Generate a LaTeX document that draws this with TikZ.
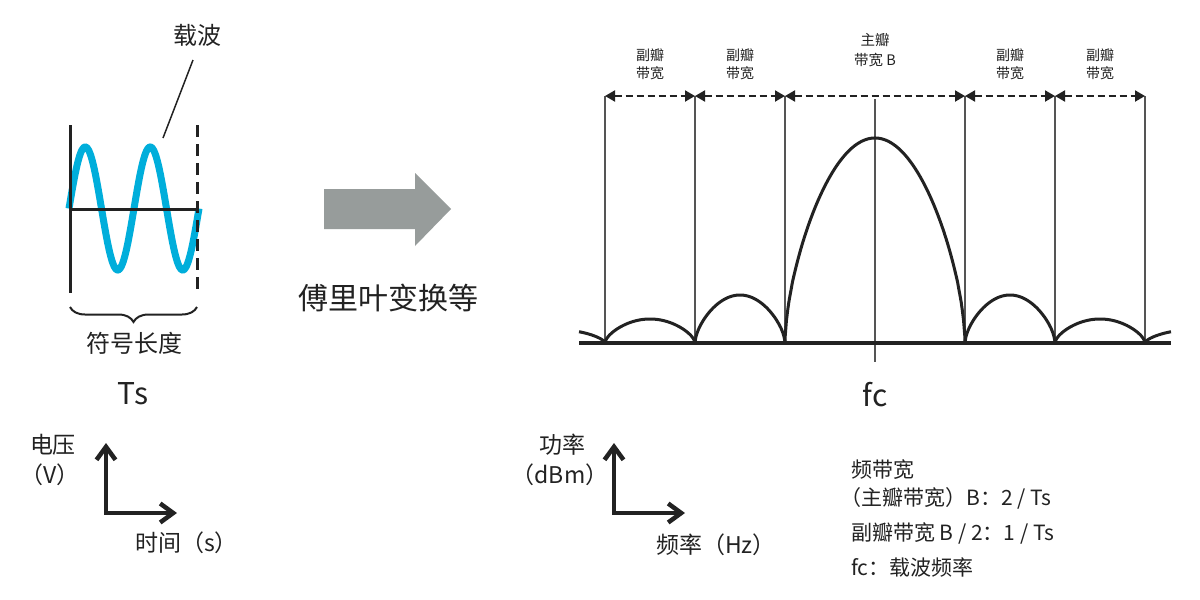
\documentclass[tikz,border=0pt]{standalone}
\usepackage{fontspec}
\setmainfont{Noto Sans CJK SC}
\usetikzlibrary{arrows.meta,decorations.pathreplacing}
\definecolor{ink}{HTML}{222222}
\definecolor{wavecol}{RGB}{0,174,219}
\definecolor{arrowgray}{RGB}{151,156,155}
\definecolor{vlinecol}{HTML}{555555}
\newcommand{\fsz}[2]{\fontsize{#1}{#2}\selectfont}
\begin{document}
\begin{tikzpicture}[x=1pt,y=-1pt,
  txt/.style={inner sep=0pt, text=ink},
  wavestyle/.style={line width=7pt, draw=wavecol},
  thinblack/.style={line width=3pt, draw=ink},
  axisarrow/.style={line width=4.5pt, draw=ink, line join=miter,
    {Straight Barb[length=13pt,width=19pt,line width=4.5pt]}-{Straight Barb[length=13pt,width=19pt,line width=4.5pt]}},
  vlinestyle/.style={line width=1.6pt, draw=vlinecol},
  lobe/.style={line width=3pt, draw=ink, line join=round},
  baseline/.style={line width=3.5pt, draw=ink},
  dasharrow/.style={line width=2pt, draw=ink, dash pattern=on 7pt off 4pt,
    {Triangle[length=10pt,width=11pt]}-{Triangle[length=10pt,width=11pt]}},
]
\fill[white] (0,0) rectangle (1200,600);
\useasboundingbox (0,0) rectangle (1200,600);

% ---------- left: carrier wave ----------
\draw[wavestyle] plot[domain=0:130, samples=150] ({69+\x}, {208.5-61.5*sin(\x/65*360)});
\coordinate (vtop) at (70,125);
\coordinate (vbot) at (70,293);
\coordinate (htl) at (70,209);
\coordinate (htr) at (198,209);
\coordinate (dtop) at (197,125);
\coordinate (dbot) at (197,293);
\draw[thinblack] (vtop) -- (vbot);
\draw[thinblack] (htl) -- (htr);
\draw[thinblack, dash pattern=on 12pt off 7pt] (dtop) -- (dbot);

\node[txt, font=\fsz{24}{28}] (carrier) at (197,35) {载波};
\coordinate (c1) at (193,60);
\coordinate (c2) at (163,138);
\draw[line width=1.5pt, draw=ink] (c1) -- (c2);

\coordinate (bl) at (70,307);
\coordinate (br) at (197,307);
\draw[line width=2pt, draw=ink, decorate, decoration={brace, mirror, amplitude=15pt}] (bl) -- (br);
\node[txt, font=\fsz{24}{28}] (symlen) at (134,343) {符号长度};
\node[txt, font=\fsz{30}{36}] (ts) at (133,394) {Ts};

% left axes
\coordinate (ly) at (106,443);
\coordinate (lo) at (106,513);
\coordinate (lx) at (177,513);
\draw[axisarrow] (ly) -- (lo) -- (lx);
\node[txt, font=\fsz{23}{28}] (volt) at (53,445) {电压};
\node[txt, font=\fsz{23}{28}] (voltu) at (50,475) {（V）};
\node[txt, font=\fsz{23}{28}, anchor=west] (time) at (135,543) {时间（s）};

% ---------- middle: big arrow ----------
\fill[arrowgray] (324,189) -- (415,189) -- (415,173) -- (451,209) -- (415,246) -- (415,229) -- (324,229) -- cycle;
\node[txt, font=\fsz{30}{36}] (ft) at (388,298) {傅里叶变换等};

% ---------- right: spectrum ----------
\foreach \i/\x in {1/605,2/695,3/785,5/965,6/1055,7/1145}{
  \coordinate (t\i) at (\x,96);
  \coordinate (b\i) at (\x,343);
}
\coordinate (t4) at (875,99);
\coordinate (b4) at (875,362);
\foreach \i in {1,2,3,4,5,6,7}{ \draw[vlinestyle] (t\i) -- (b\i); }

\coordinate (bl0) at (579,343);
\coordinate (br0) at (1171,343);
\draw[baseline] (bl0) -- (br0);

% lobes
\draw[lobe] plot[domain=128:179.8, samples=40] ({515+\x/2},{343-13*(sin(\x))^0.6}) -- (b1);
\draw[lobe] (b1) -- plot[domain=0.2:179.8, samples=90] ({605+\x/2},{343-24*(sin(\x))^0.6}) -- (b2);
\draw[lobe] (b2) -- plot[domain=0.2:179.8, samples=90] ({695+\x/2},{343-48*(sin(\x))^0.6}) -- (b3);
\draw[lobe] (b3) -- plot[domain=0.2:179.8, samples=150] ({785+\x},{343-205*(sin(\x))^0.6}) -- (b5);
\draw[lobe] (b5) -- plot[domain=0.2:179.8, samples=90] ({965+\x/2},{343-48*(sin(\x))^0.6}) -- (b6);
\draw[lobe] (b6) -- plot[domain=0.2:179.8, samples=90] ({1055+\x/2},{343-24*(sin(\x))^0.6}) -- (b7);
\draw[lobe] (b7) -- plot[domain=0.2:52, samples=40] ({1145+\x/2},{343-13*(sin(\x))^0.6});

% dashed band arrows
\draw[dasharrow] (t1) -- (t2);
\draw[dasharrow] (t2) -- (t3);
\draw[dasharrow] (t3) -- (t5);
\draw[dasharrow] (t5) -- (t6);
\draw[dasharrow] (t6) -- (t7);

% band labels
\node[txt, font=\fsz{14}{18}, align=center] (sl1) at (650,64) {副瓣\\带宽};
\node[txt, font=\fsz{14}{18}, align=center] (sl2) at (740,64) {副瓣\\带宽};
\node[txt, font=\fsz{14.5}{20}, align=center] (ml) at (875,50) {主瓣\\带宽 B};
\node[txt, font=\fsz{14}{18}, align=center] (sl3) at (1010,64) {副瓣\\带宽};
\node[txt, font=\fsz{14}{18}, align=center] (sl4) at (1100,64) {副瓣\\带宽};

\node[txt, font=\fsz{30}{36}] (fc) at (875,395) {fc};

% right axes
\coordinate (ry) at (614,443);
\coordinate (ro) at (614,513);
\coordinate (rx) at (685,513);
\draw[axisarrow] (ry) -- (ro) -- (rx);
\node[txt, font=\fsz{23}{28}] (pow) at (562,445) {功率};
\node[txt, font=\fsz{23}{28}] (powu) at (560,475) {（dBm）};
\node[txt, font=\fsz{23}{28}, anchor=west] (freq) at (656,545) {频率（Hz）};

% legend
\node[txt, font=\fsz{21}{26}, anchor=west] (lg1) at (851,470) {频带宽};
\node[txt, font=\fsz{21}{26}, anchor=west] (lg2) at (840,498) {（主瓣带宽）B：2 / Ts};
\node[txt, font=\fsz{21}{26}, anchor=west] (lg3) at (851,533) {副瓣带宽 B / 2：1 / Ts};
\node[txt, font=\fsz{21}{26}, anchor=west] (lg4) at (851,567) {fc：载波频率};
\end{tikzpicture}
\end{document}
